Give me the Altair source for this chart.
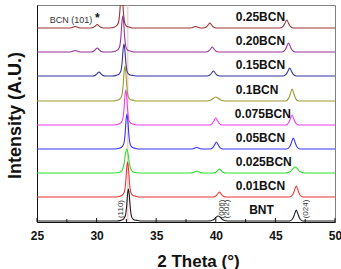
import altair as alt
import pandas as pd

# Samples, stacked from bottom to top
samples = ["BNT", "0.01BCN", "0.025BCN", "0.05BCN", "0.075BCN",
           "0.1BCN", "0.15BCN", "0.20BCN", "0.25BCN"]
offsets = [1, 25, 49, 73, 97, 121, 146, 170, 194]
colors = ["#1a1a1a", "#ee3333", "#2de02d", "#3333ff", "#f03cf0",
          "#999933", "#333399", "#993399", "#993333"]
label_x = [42.8, 41.67, 41.67, 41.67, 41.6, 41.67, 41.67, 41.67, 41.67]

# (110) reflection: position (2θ) and height of each pattern
main_pos = [32.67, 32.6, 32.53, 32.55, 32.45, 32.38, 32.3, 32.2, 32.1]
main_h = [32, 35, 24, 35, 35, 35, 32, 36, 36]
main_shape = ["sharp", "sharp", "wide", "sharp", "sharp",
              "sharp", "sharp", "sharp", "sharp"]

# Weaker reflections: (2θ, height, profile)
minor_peaks = {
    "BNT": [(40.2, 5, "broad"), (46.75, 11, "medium")],
    "0.01BCN": [(40.3, 5, "medium"), (46.75, 11, "medium")],
    "0.025BCN": [(38.4, 2, "medium"), (40.3, 4, "medium"), (46.65, 6, "broad")],
    "0.05BCN": [(38.4, 1.5, "medium"), (40.05, 7, "medium"), (46.5, 11, "medium")],
    "0.075BCN": [(40.0, 7, "medium"), (46.4, 10, "medium")],
    "0.1BCN": [(40.0, 4, "broad"), (46.4, 12, "medium")],
    "0.15BCN": [(30.2, 4, "medium"), (39.8, 5, "medium"), (46.2, 8, "medium")],
    "0.20BCN": [(28.2, 1.5, "medium"), (30.05, 4, "medium"),
                (39.7, 5, "medium"), (46.1, 9, "medium")],
    "0.25BCN": [(28.2, 1.5, "medium"), (30.05, 3.5, "medium"), (38.3, 1.5, "medium"),
                (39.5, 5, "medium"), (45.95, 8, "medium")],
}

# Peak outlines: offsets in 2θ and fraction of the peak height
profiles = {
    "sharp": ([-1.0, -0.65, -0.4, -0.26, -0.16, -0.07, 0, 0.07, 0.16, 0.27, 0.42, 0.7, 1.0],
              [0, 0.02, 0.07, 0.16, 0.42, 0.85, 1, 0.82, 0.4, 0.13, 0.05, 0.02, 0]),
    "wide": ([-1.0, -0.6, -0.38, -0.22, -0.11, 0, 0.11, 0.22, 0.38, 0.6, 1.0],
             [0, 0.03, 0.12, 0.4, 0.8, 1, 0.8, 0.4, 0.12, 0.03, 0]),
    "medium": ([-0.55, -0.3, -0.15, 0, 0.15, 0.3, 0.55],
               [0, 0.2, 0.6, 1, 0.6, 0.2, 0]),
    "broad": ([-0.8, -0.4, -0.2, 0, 0.2, 0.4, 0.8],
              [0, 0.25, 0.7, 1, 0.7, 0.25, 0]),
}

x_major = [25, 30, 35, 40, 45, 50]
x_minor = [27.5, 32.5, 37.5, 42.5, 47.5]
ref_line = 32.62

rows = []
for i, s in enumerate(samples):
    peaks = sorted(minor_peaks[s] + [(main_pos[i], main_h[i], main_shape[i])])
    pts = [(25.0, 0.0)]
    for pos, h, shape in peaks:
        dxs, frs = profiles[shape]
        pts += [(pos + dx, h * fr) for dx, fr in zip(dxs, frs)]
    pts.append((50.0, 0.0))
    for tt, v in pts:
        rows.append({"sample": s, "two_theta": tt, "intensity": offsets[i] + v})
df = pd.DataFrame(rows)

FONT = "Liberation Sans"
xscale = alt.Scale(domain=[25, 50], nice=False)
yscale = alt.Scale(domain=[0, 217], nice=False)

lines = alt.Chart(df).mark_line(strokeWidth=1.1, clip=True, interpolate="monotone").encode(
    x=alt.X("two_theta:Q", scale=xscale,
            axis=alt.Axis(values=x_major, format="d", ticks=False, grid=False,
                          labelFlush=False,
                          labelFont=FONT, labelFontSize=12, labelFontWeight="bold",
                          labelColor="#111", labelPadding=8,
                          title="2 Theta (°)", titleFont=FONT, titleFontSize=17,
                          titleFontWeight="bold", titleColor="#111",
                          titleX=161, titleY=44, titleAlign="center",
                          titleBaseline="alphabetic")),
    y=alt.Y("intensity:Q", scale=yscale,
            axis=alt.Axis(labels=False, ticks=False, grid=False,
                          title="Intensity (A.U.)", titleFont=FONT, titleFontSize=18,
                          titleFontWeight="bold", titleColor="#111",
                          titleAngle=270, titleX=-22, titleY=110,
                          titleAlign="center", titleBaseline="middle")),
    color=alt.Color("sample:N", scale=alt.Scale(domain=samples, range=colors), legend=None),
    detail="sample:N",
)

ref = alt.Chart(pd.DataFrame({"x": [ref_line]})).mark_rule(
    color="#ffb3b3", strokeWidth=1
).encode(x=alt.X("x:Q", scale=xscale))

major_ticks = alt.Chart(pd.DataFrame({"x": x_major})).mark_rule(
    color="#111", strokeWidth=1
).encode(x=alt.X("x:Q", scale=xscale), y=alt.value(217), y2=alt.value(213))
minor_ticks = alt.Chart(pd.DataFrame({"x": x_minor})).mark_rule(
    color="#111", strokeWidth=1
).encode(x=alt.X("x:Q", scale=xscale), y=alt.value(217), y2=alt.value(214))

labels_df = pd.DataFrame({"sample": samples, "x": label_x,
                          "y": [o + 11 for o in offsets]})
labels = alt.Chart(labels_df).mark_text(
    font=FONT, fontSize=12, fontWeight="bold", align="left", baseline="middle", color="#111"
).encode(x=alt.X("x:Q", scale=xscale), y=alt.Y("y:Q", scale=yscale), text="sample:N")

bcn_df = pd.DataFrame({"x": [27.86], "y": [202], "t": ["BCN (101)"]})
bcn = alt.Chart(bcn_df).mark_text(
    font=FONT, fontSize=9, align="center", baseline="middle", color="#333"
).encode(x=alt.X("x:Q", scale=xscale), y=alt.Y("y:Q", scale=yscale), text="t:N")

star_df = pd.DataFrame({"x": [30.07], "y": [204], "t": ["*"]})
star = alt.Chart(star_df).mark_text(
    font=FONT, fontSize=12, fontWeight="bold", align="center", baseline="middle", color="#111"
).encode(x=alt.X("x:Q", scale=xscale), y=alt.Y("y:Q", scale=yscale), text="t:N")

hkl_df = pd.DataFrame({"x": [32.06, 40.48, 40.9, 47.6], "y": [13, 13, 13, 13],
                       "t": ["(110)", "(006)", "(202)", "(024)"]})
hkl = alt.Chart(hkl_df).mark_text(
    font=FONT, fontSize=8, angle=270, align="center", baseline="middle", color="#333"
).encode(x=alt.X("x:Q", scale=xscale), y=alt.Y("y:Q", scale=yscale), text="t:N")

chart = alt.layer(ref, lines, major_ticks, minor_ticks, labels, bcn, star, hkl).properties(
    width=298, height=217,
    autosize="none",
    padding={"left": 37, "top": 5, "right": 6, "bottom": 47},
    background="white",
).configure_view(
    stroke="#808080", strokeWidth=1
).configure_axis(
    domainColor="#111", domainWidth=1
)

chart.save("out.html", embed_options={"renderer": "svg", "actions": False})
